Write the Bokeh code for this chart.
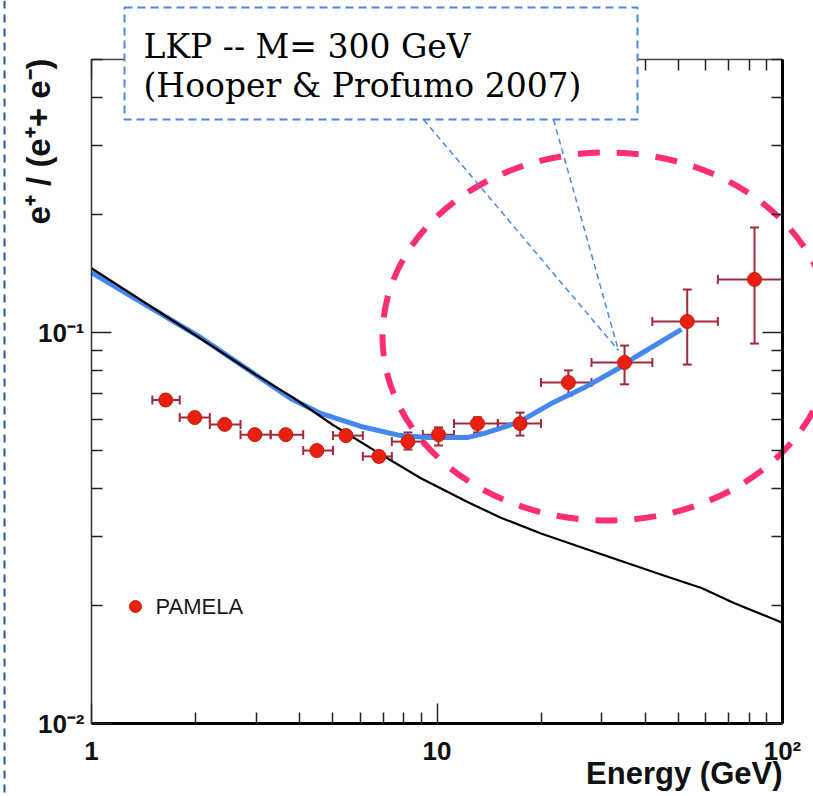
import math
from bokeh.plotting import figure
from bokeh.models import (Range1d, Whisker, TeeHead, ColumnDataSource, CustomJSTickFormatter,
                          Span, BoxAnnotation, Label, LogAxis, FixedTicker)
from bokeh.core.properties import value
from bokeh.embed import file_html
from bokeh.resources import INLINE

# ---------------- data ----------------
# PAMELA positron fraction
energy   = [1.64, 1.99, 2.43, 2.97, 3.65, 4.49, 5.45, 6.79, 8.24, 10.1, 13.1, 17.4, 24.0, 34.9, 53.0, 83.0]
fraction = [0.0672, 0.0606, 0.0582, 0.0548, 0.0548, 0.0499, 0.0545, 0.0482, 0.0526, 0.0548,
            0.0585, 0.0585, 0.0745, 0.0838, 0.1067, 0.1367]
bin_lo   = [1.5, 1.8, 2.2, 2.7, 3.3, 4.1, 5.0, 6.1, 7.4, 9.1, 11.2, 15.0, 20.0, 28.0, 42.0, 65.0]
bin_hi   = [1.8, 2.2, 2.7, 3.3, 4.1, 5.0, 6.1, 7.4, 9.1, 11.2, 15.0, 20.0, 28.0, 42.0, 65.0, 100.0]
frac_lo  = [0.0656, 0.0592, 0.0568, 0.0535, 0.0535, 0.0486, 0.0532, 0.0468, 0.0502, 0.0514,
            0.0555, 0.0545, 0.0690, 0.0737, 0.0828, 0.0937]
frac_hi  = [0.0688, 0.0620, 0.0596, 0.0561, 0.0561, 0.0512, 0.0558, 0.0496, 0.0555, 0.0572,
            0.0607, 0.0624, 0.0800, 0.0926, 0.1288, 0.1856]

# secondary production (black line)
sec_E = [1.0, 2.0, 3.0, 3.85, 5.0, 6.88, 8.98, 12.3, 15.3, 20.0, 29.9, 46.7, 58.3, 72.6, 100.0]
sec_f = [0.146, 0.0984, 0.0778, 0.0680, 0.0580, 0.0488, 0.0424, 0.0368, 0.0336, 0.0306,
         0.0271, 0.0237, 0.0222, 0.0203, 0.0181]

# LKP, M = 300 GeV (blue line)
lkp_E = [1.0, 2.07, 3.77, 4.61, 6.02, 7.85, 9.43, 12.3, 13.7, 17.2, 21.4, 26.7, 33.5, 37.3, 51.0]
lkp_f = [0.1423, 0.0971, 0.0678, 0.0621, 0.0575, 0.0545, 0.0539, 0.0539, 0.0552, 0.0589,
         0.0658, 0.0723, 0.0809, 0.0863, 0.1018]

# axes
x_bounds = (1, 100)
y_bounds = (0.01, 0.5)
x_tick_values = [1, 10, 100]
x_tick_labels = ["1", "10", "10\u00b2"]
x_minor_values = [2, 3, 4, 5, 6, 7, 8, 9, 20, 30, 40, 50, 60, 70, 80, 90]
y_tick_values = [0.01, 0.1]
y_tick_labels = ["10\u207b\u00b2", "10\u207b\u00b9"]
y_minor_values = [0.02, 0.03, 0.04, 0.05, 0.06, 0.07, 0.08, 0.09, 0.2, 0.3, 0.4, 0.5]

x_title = "Energy (GeV)"
y_title = "e\u207a / (e\u207a+ e\u207b)"
legend_label = "PAMELA"
note_lines = ["LKP  -- M= 300 GeV", "(Hooper & Profumo 2007)"]

# ---------------- layout ----------------
W, H = 813, 796
X1, XDEC = 91.0, 345.5     # canvas px of E = 1, px per decade
Y1, YDEC = 332.0, 391.0    # canvas px (from top) of f = 0.1, px per decade


def ex(px):
    return 10 ** ((px - X1) / XDEC)


def fy(py):
    return 10 ** (-1 - (py - Y1) / YDEC)


p = figure(width=W, height=H, x_axis_type="log", y_axis_type="log",
           x_range=Range1d(ex(0), ex(W)), y_range=Range1d(fy(H), fy(0)),
           min_border=0, toolbar_location=None, output_backend="svg",
           outline_line_color=None, background_fill_color="white", border_fill_color="white")
p.grid.visible = False

FONT = "Liberation Sans"


def fmt(vals, labs):
    return CustomJSTickFormatter(args=dict(vals=vals, labs=labs), code="""
        for (let i = 0; i < vals.length; i++) {
            if (Math.abs(Math.log10(tick) - Math.log10(vals[i])) < 1e-6) return labs[i];
        }
        return "";
    """)


blank = CustomJSTickFormatter(code="return '';")


def style_axis(ax, width, color):
    ax.axis_line_width = width
    ax.axis_line_color = color
    ax.major_tick_in = 20
    ax.major_tick_out = 0
    ax.minor_tick_in = 11
    ax.minor_tick_out = 0
    ax.major_tick_line_color = "#222222"
    ax.minor_tick_line_color = "#222222"
    ax.major_tick_line_width = 1.5
    ax.minor_tick_line_width = 1.5
    ax.major_label_text_font = FONT
    ax.major_label_text_font_style = "bold"
    ax.major_label_text_font_size = "26px"
    ax.major_label_text_color = "#111111"


xa = p.xaxis[0]
xa.fixed_location = y_bounds[0]
xa.bounds = x_bounds
xa.ticker = FixedTicker(ticks=x_tick_values, minor_ticks=x_minor_values)
xa.formatter = fmt(x_tick_values, x_tick_labels)
style_axis(xa, 3, "black")
xa.major_label_standoff = 12

ya = p.yaxis[0]
ya.fixed_location = x_bounds[0]
ya.bounds = y_bounds
ya.ticker = FixedTicker(ticks=y_tick_values, minor_ticks=y_minor_values)
ya.formatter = fmt(y_tick_values, y_tick_labels)
style_axis(ya, 1.5, "#333333")
ya.major_label_standoff = 7

ra = LogAxis(fixed_location=x_bounds[1], bounds=y_bounds,
             ticker=FixedTicker(ticks=y_tick_values, minor_ticks=y_minor_values), formatter=blank)
style_axis(ra, 3, "black")
p.add_layout(ra, "right")

ta = LogAxis(fixed_location=y_bounds[1], bounds=x_bounds,
             ticker=FixedTicker(ticks=x_tick_values, minor_ticks=x_minor_values), formatter=blank)
style_axis(ta, 1.5, "#444444")
p.add_layout(ta, "above")

# ---------------- curves ----------------
p.line(lkp_E, lkp_f, line_color="#4487F2", line_width=5, line_join="round")
p.line(sec_E, sec_f, line_color="black", line_width=2.2, line_join="round")

# ---------------- PAMELA data ----------------
src = ColumnDataSource(dict(x=energy, y=fraction, xlo=bin_lo, xhi=bin_hi, ylo=frac_lo, yhi=frac_hi))
EB = "#A3293A"
for dim, base, lo, hi in (("width", "y", "xlo", "xhi"), ("height", "x", "ylo", "yhi")):
    w = Whisker(source=src, base=base, lower=lo, upper=hi, dimension=dim,
                line_color=EB, line_width=2,
                upper_head=TeeHead(size=9, line_color=EB, line_width=2),
                lower_head=TeeHead(size=9, line_color=EB, line_width=2))
    p.add_layout(w)
p.scatter("x", "y", source=src, size=14, fill_color="#E8200E", line_color="#C81A10", line_width=1)

# ---------------- legend ----------------
p.scatter([ex(135)], [fy(606)], size=12, fill_color="#E8200E", line_color="#C81A10")
p.text([ex(155)], [fy(606)], text=[legend_label], text_font=value(FONT), text_font_size="22px",
       text_baseline="middle", text_align="left", text_color="#1a1a1a")

# ---------------- highlight ellipse ----------------
p.ellipse(x=[ex(607)], y=[fy(336)], width=450, height=368, width_units="screen",
          height_units="screen", fill_color=None, line_color="#FF2E74", line_width=6,
          line_dash="22 17")

# ---------------- callout ----------------
LEAD = "#4A86F0"
end_x, end_y = ex(618), fy(350)
p.segment(x0=[ex(423), ex(553)], y0=[fy(119), fy(119)], x1=[end_x, end_x], y1=[end_y, end_y],
          line_color=LEAD, line_width=1.5, line_dash="6 4")
p.add_layout(BoxAnnotation(left=ex(124), right=ex(637), top=fy(7), bottom=fy(119),
                           fill_color="white", fill_alpha=1.0, line_color=LEAD, line_alpha=1.0,
                           line_width=2, line_dash="8 5"))
for t, py in zip(note_lines, (46, 85)):
    p.add_layout(Label(x=ex(143), y=fy(py), text=t, text_font="DejaVu Serif", text_font_size="33px",
                       text_align="left", text_baseline="alphabetic", text_color="black"))

# ---------------- axis titles ----------------
p.add_layout(Label(x=ex(38), y=fy(58), text=y_title, angle=math.pi / 2, text_font=FONT,
                   text_font_style="bold", text_font_size="33px", text_align="right",
                   text_baseline="alphabetic", text_color="#111111"))
p.add_layout(Label(x=x_bounds[1], y=fy(773), text=x_title, text_font=FONT, text_font_style="bold",
                   text_font_size="31px", text_align="right", text_baseline="alphabetic",
                   text_color="#111111"))

# slide border (dashed) on the left
p.add_layout(Span(location=ex(4), dimension="height", line_color="#1F5C99", line_width=2,
                  line_dash="8 6"))

open("out.html", "w").write(file_html(p, INLINE))
